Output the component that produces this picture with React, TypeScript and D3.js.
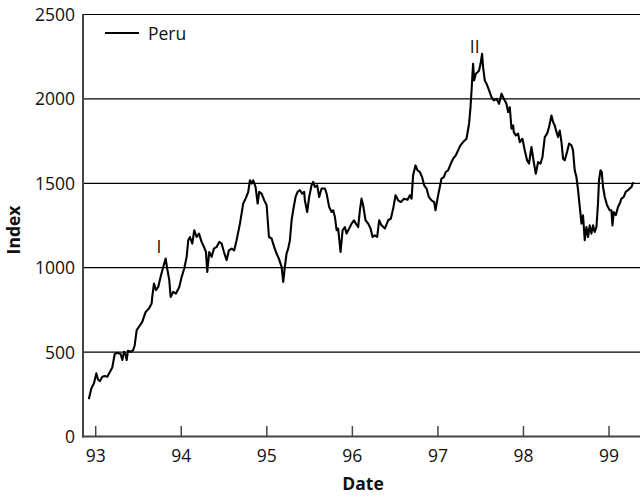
import React from "react";
import * as d3 from "d3";

const dates: number[] = [
  92.922, 92.949, 92.98, 93.007, 93.027, 93.05, 93.077, 93.105, 93.136, 93.167,
  93.194, 93.222, 93.252, 93.292, 93.311, 93.331, 93.35, 93.362, 93.377, 93.409,
  93.439, 93.456, 93.479, 93.506, 93.544, 93.584, 93.623, 93.654, 93.661, 93.681,
  93.704, 93.731, 93.759, 93.79, 93.818, 93.836, 93.86, 93.876, 93.907, 93.938,
  93.977, 94.005, 94.035, 94.063, 94.082, 94.102, 94.129, 94.152, 94.18, 94.207,
  94.238, 94.265, 94.289, 94.304, 94.327, 94.355, 94.382, 94.414, 94.444, 94.472,
  94.499, 94.53, 94.557, 94.589, 94.619, 94.647, 94.686, 94.724, 94.752, 94.783,
  94.803, 94.822, 94.841, 94.869, 94.893, 94.911, 94.939, 94.97, 94.998, 95.025,
  95.056, 95.086, 95.114, 95.141, 95.173, 95.192, 95.211, 95.231, 95.25, 95.27,
  95.29, 95.308, 95.336, 95.36, 95.387, 95.414, 95.437, 95.445, 95.472, 95.495,
  95.523, 95.542, 95.562, 95.589, 95.612, 95.64, 95.679, 95.699, 95.729, 95.757,
  95.776, 95.796, 95.816, 95.834, 95.862, 95.886, 95.912, 95.932, 95.963, 95.991,
  96.018, 96.041, 96.068, 96.088, 96.107, 96.126, 96.154, 96.185, 96.213, 96.236,
  96.263, 96.29, 96.313, 96.341, 96.38, 96.418, 96.45, 96.477, 96.505, 96.535,
  96.567, 96.605, 96.645, 96.672, 96.692, 96.71, 96.738, 96.762, 96.789, 96.815,
  96.839, 96.867, 96.894, 96.925, 96.956, 96.972, 96.995, 97.022, 97.042, 97.069,
  97.092, 97.119, 97.151, 97.178, 97.209, 97.236, 97.264, 97.294, 97.334, 97.364,
  97.381, 97.393, 97.411, 97.423, 97.443, 97.463, 97.481, 97.498, 97.516, 97.528,
  97.548, 97.568, 97.598, 97.626, 97.653, 97.685, 97.715, 97.743, 97.77, 97.801,
  97.82, 97.84, 97.86, 97.879, 97.887, 97.91, 97.937, 97.957, 97.988, 98.015,
  98.042, 98.065, 98.093, 98.12, 98.144, 98.171, 98.199, 98.222, 98.249, 98.276,
  98.299, 98.327, 98.346, 98.366, 98.386, 98.404, 98.424, 98.444, 98.463, 98.482,
  98.509, 98.533, 98.561, 98.579, 98.599, 98.619, 98.638, 98.658, 98.678, 98.696,
  98.716, 98.736, 98.755, 98.774, 98.794, 98.813, 98.833, 98.853, 98.871, 98.883,
  98.9, 98.915, 98.93, 98.95, 98.977, 99.008, 99.028, 99.04, 99.055, 99.079,
  99.105, 99.125, 99.145, 99.172, 99.195, 99.222, 99.242, 99.262, 99.28,
];

const values: number[] = [
  226, 285, 316, 374, 338, 328, 354, 358, 354, 383,
  409, 488, 496, 488, 453, 502, 482, 453, 508, 502,
  512, 541, 630, 650, 679, 738, 759, 788, 827, 906,
  867, 886, 946, 1005, 1054, 995, 926, 827, 857, 847,
  886, 946, 995, 1064, 1163, 1182, 1143, 1222, 1182, 1202,
  1153, 1123, 1093, 975, 1093, 1064, 1113, 1123, 1153, 1143,
  1093, 1044, 1103, 1113, 1103, 1163, 1261, 1380, 1409, 1449,
  1518, 1498, 1518, 1478, 1380, 1449, 1439, 1399, 1370, 1182,
  1173, 1123, 1084, 1054, 1005, 916, 1005, 1084, 1113, 1163,
  1281, 1340, 1419, 1449, 1459, 1439, 1449, 1399, 1330, 1419,
  1488, 1508, 1478, 1488, 1419, 1469, 1469, 1439, 1360, 1330,
  1340, 1301, 1222, 1232, 1093, 1222, 1241, 1202, 1232, 1261,
  1281, 1261, 1241, 1340, 1409, 1370, 1281, 1261, 1232, 1182,
  1192, 1182, 1281, 1251, 1232, 1281, 1291, 1350, 1429, 1399,
  1389, 1409, 1403, 1429, 1409, 1547, 1606, 1577, 1567, 1537,
  1488, 1469, 1419, 1399, 1389, 1340, 1409, 1478, 1528, 1537,
  1567, 1577, 1617, 1646, 1666, 1695, 1725, 1744, 1764, 1853,
  1951, 2050, 2208, 2109, 2149, 2158, 2168, 2208, 2267, 2188,
  2109, 2090, 2050, 2011, 1991, 2001, 1971, 2031, 2001, 1971,
  1922, 1951, 1823, 1843, 1803, 1784, 1794, 1744, 1764, 1695,
  1636, 1617, 1715, 1626, 1557, 1626, 1617, 1656, 1774, 1794,
  1833, 1902, 1863, 1843, 1803, 1774, 1813, 1744, 1646, 1636,
  1685, 1735, 1725, 1695, 1577, 1537, 1459, 1360, 1261, 1311,
  1163, 1241, 1182, 1251, 1202, 1251, 1212, 1241, 1380, 1518,
  1577, 1567, 1478, 1419, 1370, 1340, 1340, 1251, 1330, 1311,
  1360, 1380, 1409, 1419, 1449, 1459, 1469, 1478, 1502,
];

const xTicks: number[] = [93, 94, 95, 96, 97, 98, 99];
const yTicks: number[] = [0, 500, 1000, 1500, 2000, 2500];
const seriesName = "Peru";
const annotations: { label: string; date: number; value: number }[] = [
  { label: "I", date: 93.74, value: 1085 },
  { label: "II", date: 97.43, value: 2272 },
];

const W = 640;
const H = 497;
const FONT = "'Open Sans', 'Noto Sans', sans-serif";

export default function App() {
  const left = 83;
  const right = 640;
  const top = 14.5;
  const bottom = 436.5;

  const x = d3.scaleLinear().domain([92.8516, 99.362]).range([left, right]);
  const y = d3.scaleLinear().domain([0, 2500]).range([bottom, top]);

  const pts = dates.map((d, i) => [d, values[i]] as [number, number]);
  const line = d3
    .line<[number, number]>()
    .x((d) => x(d[0]))
    .y((d) => y(d[1]));

  const fs = 17.5;

  return (
    <svg
      width={W}
      height={H}
      style={{ position: "absolute", left: 0, top: 0, background: "#fff" }}
      fontFamily={FONT}
    >
      <rect x={0} y={0} width={W} height={H} fill="#fff" />
      {/* gridlines */}
      {yTicks
        .filter((t) => t > 0)
        .map((t) => (
          <line
            key={t}
            x1={left}
            x2={right}
            y1={y(t)}
            y2={y(t)}
            stroke="#000"
            strokeWidth={1.2}
          />
        ))}
      {/* y tick labels */}
      {yTicks.map((t) => (
        <text
          key={t}
          x={left - 8}
          y={y(t) + 6.5}
          textAnchor="end"
          fontSize={fs}
          fill="#111"
        >
          {t}
        </text>
      ))}
      {/* x ticks */}
      {xTicks.map((t) => (
        <g key={t}>
          <line
            x1={x(t)}
            x2={x(t)}
            y1={bottom}
            y2={bottom - 10.5}
            stroke="#444"
            strokeWidth={1.5}
          />
          <text
            x={x(t)}
            y={462}
            textAnchor="middle"
            fontSize={fs}
            fill="#111"
          >
            {t}
          </text>
        </g>
      ))}
      {/* axes */}
      <line x1={left} x2={left} y1={top - 0.5} y2={bottom + 1} stroke="#444" strokeWidth={2} />
      <line x1={left - 1} x2={right} y1={bottom} y2={bottom} stroke="#444" strokeWidth={2} />
      {/* data line */}
      <path
        d={line(pts) || ""}
        fill="none"
        stroke="#000"
        strokeWidth={2.1}
        strokeLinejoin="round"
        strokeLinecap="round"
      />
      {/* annotations */}
      {annotations.map((a) => (
        <text
          key={a.label}
          x={x(a.date)}
          y={y(a.value)}
          textAnchor="middle"
          fontSize={fs}
          fill="#111"
        >
          {a.label}
        </text>
      ))}
      {/* legend */}
      <line x1={105} x2={139} y1={33} y2={33} stroke="#000" strokeWidth={2} />
      <text x={148} y={39.5} fontSize={fs} fill="#111">
        {seriesName}
      </text>
      {/* axis titles */}
      <text
        x={363}
        y={490}
        textAnchor="middle"
        fontSize={fs}
        fontWeight="bold"
        fill="#111"
      >
        Date
      </text>
      <text
        transform={`translate(20,230) rotate(-90)`}
        textAnchor="middle"
        fontSize={fs}
        fontWeight="bold"
        fill="#111"
      >
        Index
      </text>
    </svg>
  );
}
